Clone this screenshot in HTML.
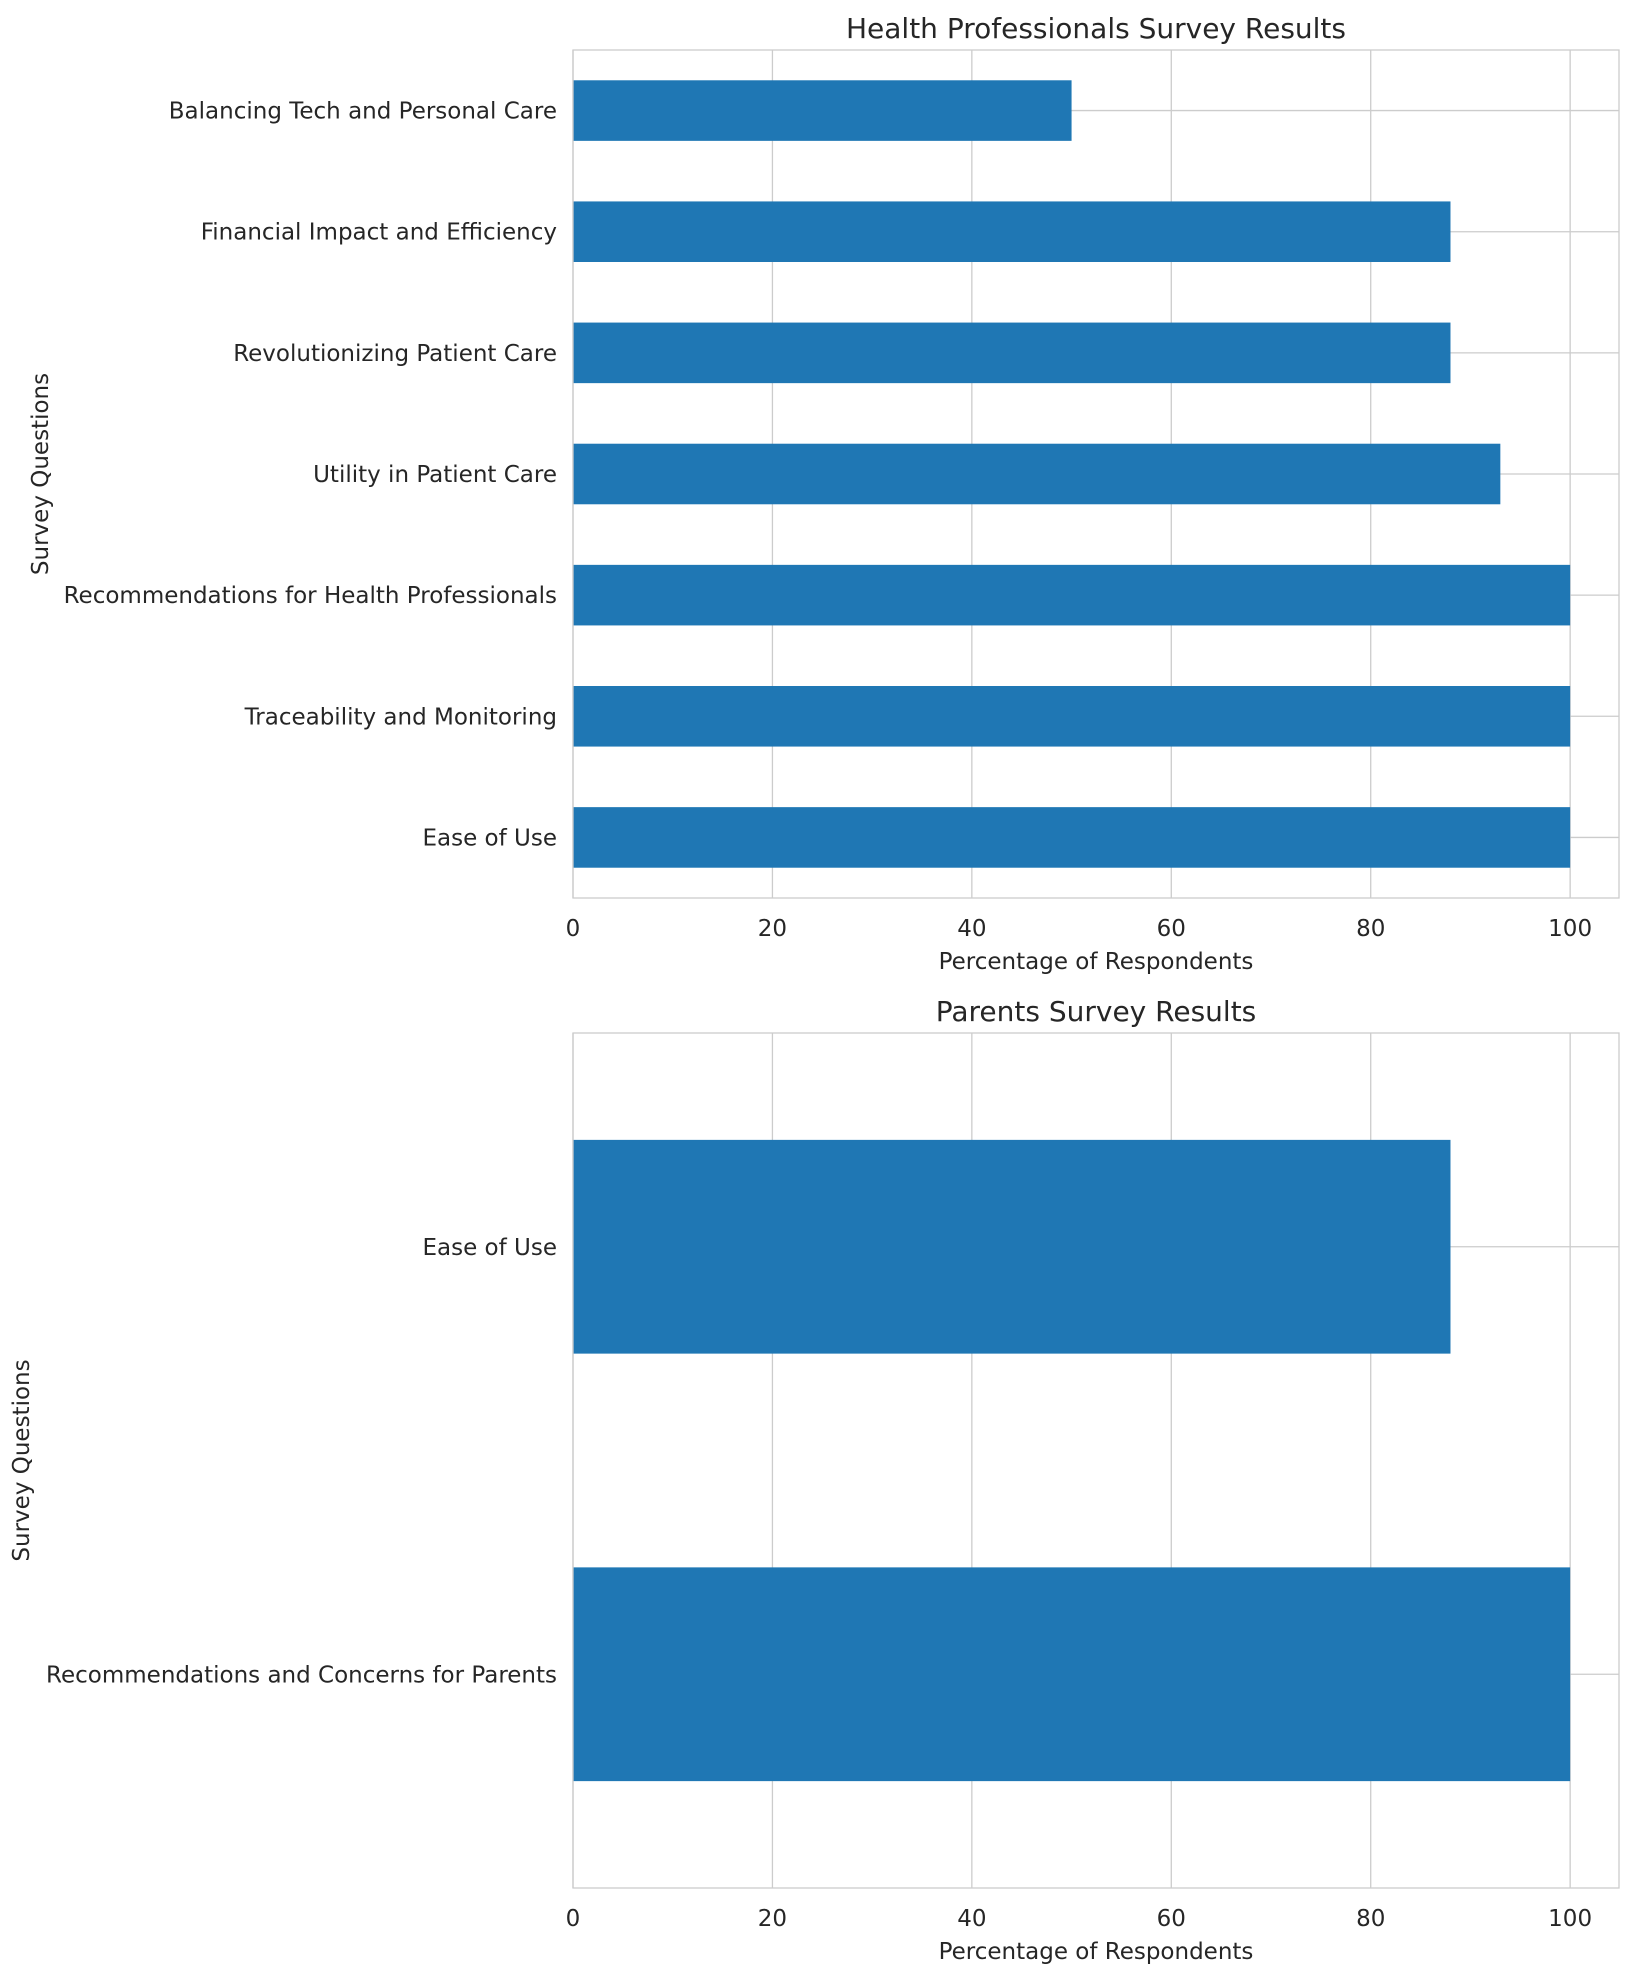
<!DOCTYPE html>
<html><head><meta charset="utf-8"><style>
body{margin:0;background:#fff}
svg text{font-family:"DejaVu Sans","Liberation Sans",sans-serif;fill:#262626}
</style></head><body>
<svg id="chart" width="1636" height="1964" xmlns="http://www.w3.org/2000/svg"></svg>
<script>
const hpCategories=["Ease of Use","Traceability and Monitoring","Recommendations for Health Professionals","Utility in Patient Care","Revolutionizing Patient Care","Financial Impact and Efficiency","Balancing Tech and Personal Care"];
const hpValues=[100,100,100,93,88,88,50];
const parentCategories=["Recommendations and Concerns for Parents","Ease of Use"];
const parentValues=[100,88];
const xTicks=[0,20,40,60,80,100];
const NS="http://www.w3.org/2000/svg";
const svg=document.getElementById('chart');
function mk(t,a,txt){const e=document.createElementNS(NS,t);for(const k in a)e.setAttribute(k,a[k]);if(txt!==undefined)e.textContent=txt;svg.appendChild(e);return e;}
function panel(p,cats,vals,title,prefix){
  const L=573,R=1619,T=p.top,B=p.bottom;
  const xs=v=>L+(v/104.9)*(R-L);
  const n=cats.length,unit=(B-T)/n;
  const ys=i=>B-(i+0.5)*unit;
  xTicks.forEach(t=>{
    const g=mk('line',{x1:xs(t),x2:xs(t),y1:T,y2:B,stroke:'#cccccc','stroke-width':1.3});
    
    
    const tl=mk('text',{x:xs(t),y:B+38,'text-anchor':'middle','font-size':23},String(t));
    
    
  });
  cats.forEach((c,i)=>{
    const g=mk('line',{x1:L,x2:R,y1:ys(i),y2:ys(i),stroke:'#cccccc','stroke-width':1.3});
    
    
  });
  cats.forEach((c,i)=>{
    const h=unit*0.5;
    const b=mk('rect',{x:xs(0),y:ys(i)-h/2,width:xs(vals[i])-xs(0),height:h,fill:'#1f77b4'});
    
    
    const tl=mk('text',{x:557,y:ys(i)+8,'text-anchor':'end','font-size':23},c);
    
    
  });
  const f=mk('rect',{x:L,y:T,width:R-L,height:B-T,fill:'none',stroke:'#cccccc','stroke-width':1.3});
  
  
  const tt=mk('text',{x:(L+R)/2,y:T-12,'text-anchor':'middle','font-size':28},title);
  
  
  const xl=mk('text',{x:(L+R)/2,y:B+71,'text-anchor':'middle','font-size':23},'Percentage of Respondents');
  
  
  const yc=(T+B)/2;
  const yl=mk('text',{x:p.ylx,y:yc,'text-anchor':'middle','font-size':23,transform:`rotate(-90 ${p.ylx} ${yc})`},'Survey Questions');
  
  
}
panel({top:50,bottom:898,ylx:48},hpCategories,hpValues,'Health Professionals Survey Results','hp');
panel({top:1033,bottom:1888,ylx:29},parentCategories,parentValues,'Parents Survey Results','parents');
</script>
</body></html>
